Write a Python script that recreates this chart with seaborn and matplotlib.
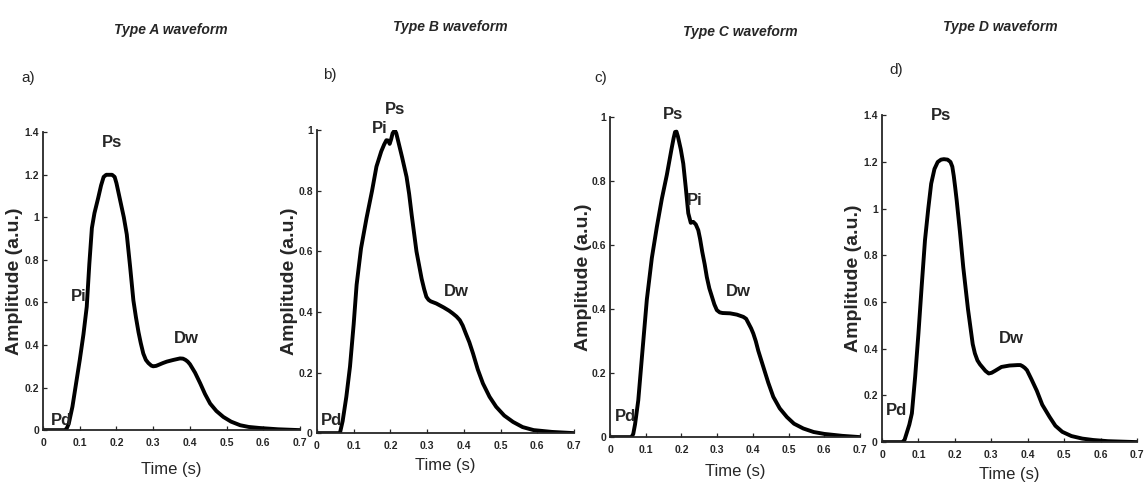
import numpy as np
import pandas as pd
import matplotlib
matplotlib.use("Agg")
import matplotlib.pyplot as plt
import seaborn as sns

sns.set_style("ticks")
plt.rcParams['font.family'] = ['Liberation Sans', 'DejaVu Sans']

# waveforms (time in s, amplitude in a.u.)
t_a = [0, 0.03, 0.06, 0.065, 0.07, 0.08, 0.09, 0.10, 0.11, 0.119, 0.126, 0.133, 0.14, 0.15, 0.158,
       0.165, 0.172, 0.18, 0.188, 0.195, 0.2, 0.205, 0.21, 0.215, 0.22, 0.228, 0.237, 0.246, 0.253,
       0.26, 0.266, 0.273, 0.28, 0.287, 0.295, 0.30, 0.308, 0.315, 0.326, 0.337, 0.355, 0.373, 0.381,
       0.388, 0.394, 0.40, 0.407, 0.414, 0.428, 0.441, 0.455, 0.472, 0.491, 0.512, 0.537, 0.56, 0.59,
       0.64, 0.7]
v_a = [0, 0, 0, 0.01, 0.03, 0.11, 0.22, 0.33, 0.45, 0.58, 0.78, 0.95, 1.02, 1.09, 1.15,
       1.19, 1.2, 1.2, 1.2, 1.19, 1.16, 1.12, 1.08, 1.04, 1.0, 0.92, 0.77, 0.61, 0.53,
       0.46, 0.41, 0.36, 0.33, 0.315, 0.303, 0.30, 0.302, 0.307, 0.315, 0.322, 0.33, 0.337, 0.336,
       0.33, 0.322, 0.31, 0.29, 0.27, 0.22, 0.17, 0.125, 0.09, 0.062, 0.04, 0.023, 0.015, 0.01,
       0.004, 0]

t_b = [0, 0.03, 0.0625, 0.07, 0.08, 0.09, 0.10, 0.108, 0.12, 0.135, 0.15, 0.162, 0.175, 0.183,
       0.189, 0.194, 0.198, 0.202, 0.206, 0.212, 0.216, 0.22, 0.226, 0.232, 0.244, 0.251, 0.258,
       0.271, 0.285, 0.292, 0.298, 0.304, 0.31, 0.325, 0.345, 0.36, 0.37, 0.38, 0.389, 0.397,
       0.405, 0.415, 0.425, 0.438, 0.452, 0.47, 0.488, 0.51, 0.534, 0.56, 0.59, 0.64, 0.7]
v_b = [0, 0, 0, 0.04, 0.12, 0.22, 0.36, 0.49, 0.61, 0.71, 0.8, 0.88, 0.93, 0.953,
       0.967, 0.966, 0.955, 0.97, 0.99, 1.0, 0.99, 0.97, 0.94, 0.91, 0.846, 0.79, 0.72,
       0.60, 0.51, 0.475, 0.45, 0.44, 0.435, 0.428, 0.415, 0.404, 0.395, 0.385, 0.373, 0.355,
       0.33, 0.3, 0.263, 0.21, 0.164, 0.12, 0.087, 0.058, 0.037, 0.02, 0.01, 0.004, 0]

t_c = [0, 0.03, 0.06, 0.065, 0.07, 0.079, 0.09, 0.103, 0.117, 0.131, 0.145, 0.159, 0.172, 0.178,
       0.182, 0.186, 0.19, 0.198, 0.205, 0.212, 0.219, 0.226, 0.233, 0.24, 0.247, 0.252, 0.258,
       0.265, 0.271, 0.278, 0.285, 0.292, 0.299, 0.307, 0.315, 0.336, 0.355, 0.373, 0.381, 0.388,
       0.395, 0.401, 0.408, 0.415, 0.429, 0.443, 0.457, 0.475, 0.495, 0.515, 0.541, 0.57, 0.6,
       0.65, 0.7]
v_c = [0, 0, 0, 0.01, 0.04, 0.115, 0.26, 0.43, 0.56, 0.657, 0.745, 0.82, 0.9, 0.935,
       0.954, 0.955, 0.94, 0.9, 0.855, 0.78, 0.70, 0.67, 0.673, 0.665, 0.647, 0.62, 0.58,
       0.54, 0.50, 0.465, 0.44, 0.415, 0.397, 0.39, 0.388, 0.387, 0.383, 0.376, 0.37, 0.355,
       0.34, 0.324, 0.3, 0.27, 0.22, 0.17, 0.126, 0.09, 0.063, 0.042, 0.027, 0.016, 0.01,
       0.004, 0]

t_d = [0, 0.03, 0.056, 0.062, 0.068, 0.075, 0.082, 0.091, 0.10, 0.109, 0.118, 0.127, 0.135, 0.144,
       0.153, 0.162, 0.17, 0.18, 0.188, 0.193, 0.197, 0.201, 0.205, 0.214, 0.223, 0.236, 0.249,
       0.255, 0.262, 0.269, 0.276, 0.284, 0.293, 0.301, 0.31, 0.328, 0.35, 0.372, 0.38, 0.386, 0.392,
       0.398, 0.41, 0.425, 0.44, 0.46, 0.476, 0.495, 0.52, 0.55, 0.58, 0.62, 0.7]
v_d = [0, 0, 0, 0.01, 0.04, 0.075, 0.123, 0.28, 0.465, 0.67, 0.865, 1.0, 1.107, 1.17,
       1.2, 1.21, 1.212, 1.21, 1.2, 1.18, 1.14, 1.09, 1.036, 0.9, 0.75, 0.57, 0.42,
       0.38, 0.35, 0.333, 0.32, 0.305, 0.294, 0.297, 0.305, 0.322, 0.328, 0.33, 0.33, 0.325, 0.318,
       0.308, 0.27, 0.22, 0.16, 0.108, 0.07, 0.044, 0.026, 0.015, 0.009, 0.004, 0]

titles = ['Type A waveform', 'Type B waveform', 'Type C waveform', 'Type D waveform']
letters = ['a)', 'b)', 'c)', 'd)']
ymax = [1.4, 1.0, 1.0, 1.4]

# peak labels: (text, t, amplitude)
notes_a = [('Ps', 0.187, 1.354), ('Pi', 0.096, 0.626), ('Dw', 0.39, 0.43), ('Pd', 0.05, 0.047)]
notes_b = [('Pi', 0.171, 1.005), ('Ps', 0.212, 1.07), ('Dw', 0.38, 0.466), ('Pd', 0.04, 0.043)]
notes_c = [('Ps', 0.177, 1.01), ('Pi', 0.238, 0.74), ('Dw', 0.36, 0.454), ('Pd', 0.042, 0.063)]
notes_d = [('Ps', 0.161, 1.40), ('Dw', 0.354, 0.444), ('Pd', 0.039, 0.137)]

panels = [(t_a, v_a, notes_a), (t_b, v_b, notes_b), (t_c, v_c, notes_c), (t_d, v_d, notes_d)]

# axes boxes in figure fractions
boxes = [[0.0375, 0.138, 0.2239, 0.597],
         [0.2761, 0.132, 0.2239, 0.607],
         [0.5314, 0.124, 0.2178, 0.641],
         [0.7683, 0.114, 0.2221, 0.655]]
title_pos = [(0.149, 0.94), (0.392, 0.946), (0.645, 0.936), (0.871, 0.946)]
letter_pos = [(0.019, 0.843), (0.281, 0.85), (0.518, 0.843), (0.775, 0.86)]
ylab_x = [-0.078, -0.075, -0.072, -0.077]
xlab_pad = [10, 5, 6, 5]

fig = plt.figure(figsize=(11.48, 4.99), dpi=100)

for i, (t, v, notes) in enumerate(panels):
    ax = fig.add_axes(boxes[i])
    df = pd.DataFrame({'time': t, 'amp': v})
    sns.lineplot(data=df, x='time', y='amp', ax=ax, color='black', linewidth=2.8,
                 estimator=None, sort=False)
    ax.set_xlim(0, 0.7)
    ax.set_ylim(0, ymax[i])
    xt = np.round(np.arange(0, 0.71, 0.1), 1)
    ax.set_xticks(xt)
    ax.set_xticklabels(['0'] + [f'{x:g}' for x in xt[1:]])
    yt = np.round(np.arange(0, ymax[i] + 0.01, 0.2), 1)
    ax.set_yticks(yt)
    ax.set_yticklabels([f'{y:g}' for y in yt])
    ax.tick_params(direction='in', length=3, width=0.9, labelsize=7.5)
    ax.tick_params(axis='x', pad=6)
    ax.tick_params(axis='y', pad=3)
    for lab in ax.get_xticklabels() + ax.get_yticklabels():
        lab.set_fontweight('bold')
    sns.despine(ax=ax)
    ax.spines['left'].set_linewidth(1.3)
    ax.spines['bottom'].set_linewidth(1.3)
    ax.set_xlabel('Time (s)', fontsize=12, labelpad=xlab_pad[i])
    ax.set_ylabel('Amplitude (a.u.)', fontsize=14, fontweight='bold')
    ax.yaxis.set_label_coords(ylab_x[i], 0.5)
    for txt, x, y in notes:
        ax.text(x, y, txt, fontsize=12, fontweight='bold', ha='center', va='center', clip_on=False)
    fig.text(title_pos[i][0], title_pos[i][1], titles[i], fontsize=10, fontweight='bold',
             style='italic', ha='center', va='center')
    fig.text(letter_pos[i][0], letter_pos[i][1], letters[i], fontsize=11, ha='left', va='center')

plt.savefig('out.png', dpi=100)
